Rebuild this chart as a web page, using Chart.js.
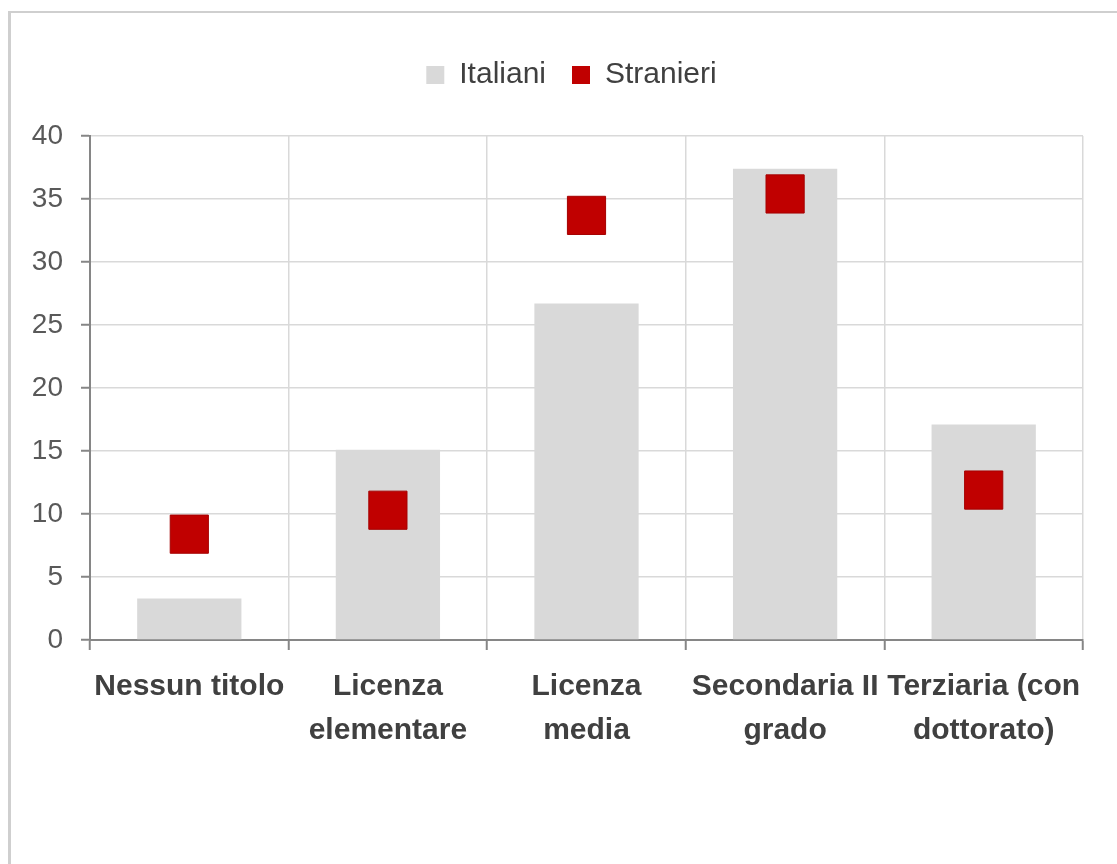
<!DOCTYPE html>
<html>
<head>
<meta charset="utf-8">
<script src="https://cdn.jsdelivr.net/npm/chart.js@4"></script>
<style>
  html, body { margin: 0; padding: 0; background: #fff; }
  #wrap { position: relative; width: 1117px; height: 864px; overflow: hidden; }
  #frame {
    position: absolute; left: 8px; top: 11px; right: 0; bottom: 0;
    border-top: 2px solid #cfcfcf; border-left: 3px solid #cfcfcf;
  }
  canvas { position: absolute; left: 0; top: 0; }
</style>
</head>
<body>
<div id="wrap">
  <div id="frame"></div>
  <canvas id="chart" width="1117" height="864"></canvas>
</div>
<script>
// titolo di studio, valori in %
const categories = [
    'Nessun titolo',
    ['Licenza', 'elementare'],
    ['Licenza', 'media'],
    ['Secondaria II', 'grado'],
    ['Terziaria (con', 'dottorato)']
];
const italiani = [3.3, 15.1, 26.7, 37.4, 17.1];
const stranieri = [8.4, 10.3, 33.7, 35.4, 11.9];
const yTicks = [0, 5, 10, 15, 20, 25, 30, 35, 40];

const fontFam = "'Liberation Sans', Arial, sans-serif";

// extra space under the legend, and legend centred a bit to the right
const legendSpace = {
    id: 'legendSpace',
    beforeInit(chart) {
        const fit = chart.legend.fit;
        chart.legend.fit = function () {
            fit.bind(chart.legend)();
            this.height += 36;
        };
    },
    afterLayout(chart) {
        chart.legend.left += 30;
        chart.legend.right += 30;
    }
};

const ctx = document.getElementById('chart').getContext('2d');
new Chart(ctx, {
    type: 'bar',
    data: {
        labels: categories,
        datasets: [
            {
                type: 'line',
                label: 'Stranieri',
                data: stranieri,
                showLine: false,
                pointStyle: 'rect',
                pointRadius: 27,
                pointHoverRadius: 27,
                pointBackgroundColor: '#c00000',
                pointBorderColor: '#a50000',
                pointBorderWidth: 1,
                backgroundColor: '#c00000',
                borderColor: '#c00000',
                borderWidth: 0,
                order: 0
            },
            {
                label: 'Italiani',
                data: italiani,
                backgroundColor: '#d9d9d9',
                borderWidth: 0,
                categoryPercentage: 1,
                barPercentage: 0.525,
                order: 1
            }
        ]
    },
    options: {
        responsive: false,
        animation: false,
        layout: { padding: { top: 34, right: 34, left: 0, bottom: 0 } },
        plugins: {
            legend: {
                position: 'top',
                reverse: true,
                labels: {
                    boxWidth: 18,
                    boxHeight: 18,
                    padding: 26,
                    color: '#404040',
                    font: { family: fontFam, size: 30 }
                }
            },
            tooltip: { enabled: false }
        },
        scales: {
            x: {
                afterFit(scale) { scale.height = 224; },
                grid: {
                    color: '#d9d9d9',
                    lineWidth: 1.5,
                    tickColor: '#868686',
                    tickLength: 10,
                    tickWidth: 2
                },
                border: { color: '#868686', width: 2 },
                ticks: {
                    color: '#404040',
                    padding: 15,
                    maxRotation: 0,
                    autoSkip: false,
                    font: { family: fontFam, size: 30, weight: 'bold', lineHeight: 1.45 }
                }
            },
            y: {
                min: 0,
                max: 40,
                afterFit(scale) { scale.width = 90; },
                afterBuildTicks(scale) { scale.ticks = yTicks.map(v => ({ value: v })); },
                grid: {
                    color: '#d9d9d9',
                    lineWidth: 1.5,
                    tickColor: '#868686',
                    tickLength: 9,
                    tickWidth: 2
                },
                border: { color: '#868686', width: 2 },
                ticks: {
                    color: '#595959',
                    padding: 18,
                    font: { family: fontFam, size: 28 }
                }
            }
        }
    },
    plugins: [legendSpace]
});
</script>
</body>
</html>
